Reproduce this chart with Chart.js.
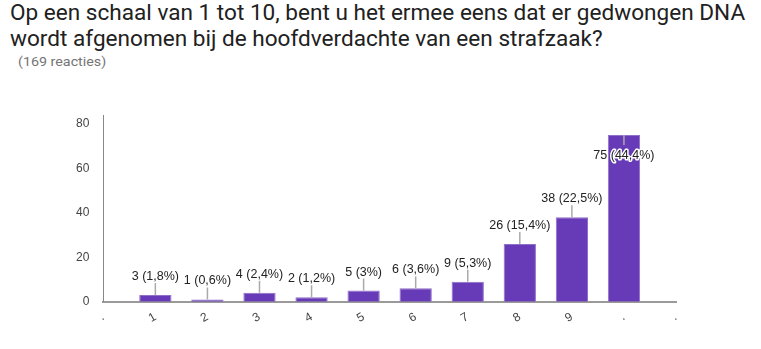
<!DOCTYPE html>
<html lang="nl">
<head>
<meta charset="utf-8">
<title>Gedwongen DNA-afname</title>
<script src="https://cdn.jsdelivr.net/npm/chart.js@4.4.1/dist/chart.umd.min.js"></script>
<style>
  html, body { margin: 0; padding: 0; background: #fff; }
  .wrap { position: relative; width: 761px; height: 349px; overflow: hidden; }
  .titel {
    position: absolute; left: 10px; top: 0;
    font-family: Roboto, sans-serif; font-size: 22px; line-height: 25.5px;
    color: #212121; white-space: nowrap; transform-origin: 0 0;
  }
  .titel span { display: inline-block; }
  .aantal {
    position: absolute; left: 18px; top: 54px;
    font-family: Roboto, sans-serif; font-size: 13px; line-height: 16px;
    color: #757575; white-space: nowrap; transform-origin: 0 0;
  }
  canvas { position: absolute; left: 0; top: 0; }
</style>
</head>
<body>
<div class="wrap">
  <div class="titel"><span id="regel1">Op een schaal van 1 tot 10, bent u het ermee eens dat er gedwongen DNA</span><br><span>wordt afgenomen bij de hoofdverdachte van een strafzaak?</span></div>
  <div class="aantal" id="aantal">(169 reacties)</div>
  <canvas id="grafiek" width="761" height="349"></canvas>
</div>
<script>
// schaal 1..10, met lege posities aan de randen van de as
const labels = [".", "1", "2", "3", "4", "5", "6", "7", "8", "9", ".", "."];
const counts = [null, 3, 1, 4, 2, 5, 6, 9, 26, 38, 75, null];
const totalResponses = 169;
const yMax = 84;
const yStep = 20;

// percentage met hooguit één decimaal, komma als scheidingsteken
const pct = (v) => String(Math.round((v / totalResponses) * 1000) / 10).replace(".", ",");

// titel iets smaller zetten zodat de regel past
const regel = document.getElementById("regel1");
const titel = document.querySelector(".titel");
titel.style.transform = `scaleX(${735 / regel.offsetWidth})`;
const aantal = document.getElementById("aantal");
aantal.style.transform = `scaleX(${88 / aantal.offsetWidth})`;

// waardelabels met een streepje naar de balk
const valueLabels = {
  id: "valueLabels",
  afterDatasetsDraw(chart) {
    const { ctx, chartArea } = chart;
    const meta = chart.getDatasetMeta(0);
    ctx.save();
    ctx.font = "12.5px Arial, 'Liberation Sans', sans-serif";
    ctx.textAlign = "center";
    ctx.textBaseline = "middle";
    meta.data.forEach((bar, i) => {
      const v = counts[i];
      if (v == null) return;
      const text = `${v} (${pct(v)}%)`;
      const x = bar.x;
      const top = bar.y;
      const inside = top - 26 < chartArea.top; // past niet meer boven de balk
      const stemEnd = inside ? top + 10 : top - 12;
      const textY = inside ? top + 21 : top - 18.5;

      ctx.strokeStyle = "#aaaaaa";
      ctx.lineWidth = 1.5;
      ctx.beginPath();
      ctx.moveTo(x, top);
      ctx.lineTo(x, stemEnd);
      ctx.stroke();

      ctx.strokeStyle = "#ffffff";
      ctx.lineWidth = 3;
      ctx.lineJoin = "round";
      if (inside) ctx.strokeText(text, x, textY);
      ctx.fillStyle = "#222222";
      ctx.fillText(text, x, textY);
    });
    ctx.restore();
  },
};

new Chart(document.getElementById("grafiek").getContext("2d"), {
  type: "bar",
  data: {
    labels: labels,
    datasets: [
      {
        data: counts,
        backgroundColor: "#673ab7",
        borderColor: "#8f6fc9",
        borderWidth: 1,
        categoryPercentage: 1,
        barPercentage: 0.62,
      },
    ],
  },
  options: {
    responsive: false,
    animation: false,
    devicePixelRatio: 1,
    layout: { padding: { left: 73, right: 85, top: 115, bottom: 0 } },
    plugins: {
      legend: { display: false },
      tooltip: { enabled: false },
    },
    scales: {
      x: {
        offset: false,
        grid: { display: false, drawTicks: false },
        border: { display: true, color: "#9a9a9a", width: 2 },
        ticks: {
          autoSkip: false,
          minRotation: 30,
          maxRotation: 30,
          padding: 8,
          color: "#444444",
          font: { family: "Arial, 'Liberation Sans', sans-serif", size: 12 },
        },
        afterFit: (scale) => { scale.height = 47.3; },
      },
      y: {
        min: 0,
        max: yMax,
        grid: { display: false, drawTicks: false },
        border: { display: true, color: "#888888", width: 1 },
        ticks: {
          stepSize: yStep,
          includeBounds: false,
          padding: 14,
          color: "#444444",
          font: { family: "Arial, 'Liberation Sans', sans-serif", size: 12 },
        },
        afterFit: (scale) => { scale.width = 30.3; },
      },
    },
  },
  plugins: [valueLabels],
});
</script>
</body>
</html>
